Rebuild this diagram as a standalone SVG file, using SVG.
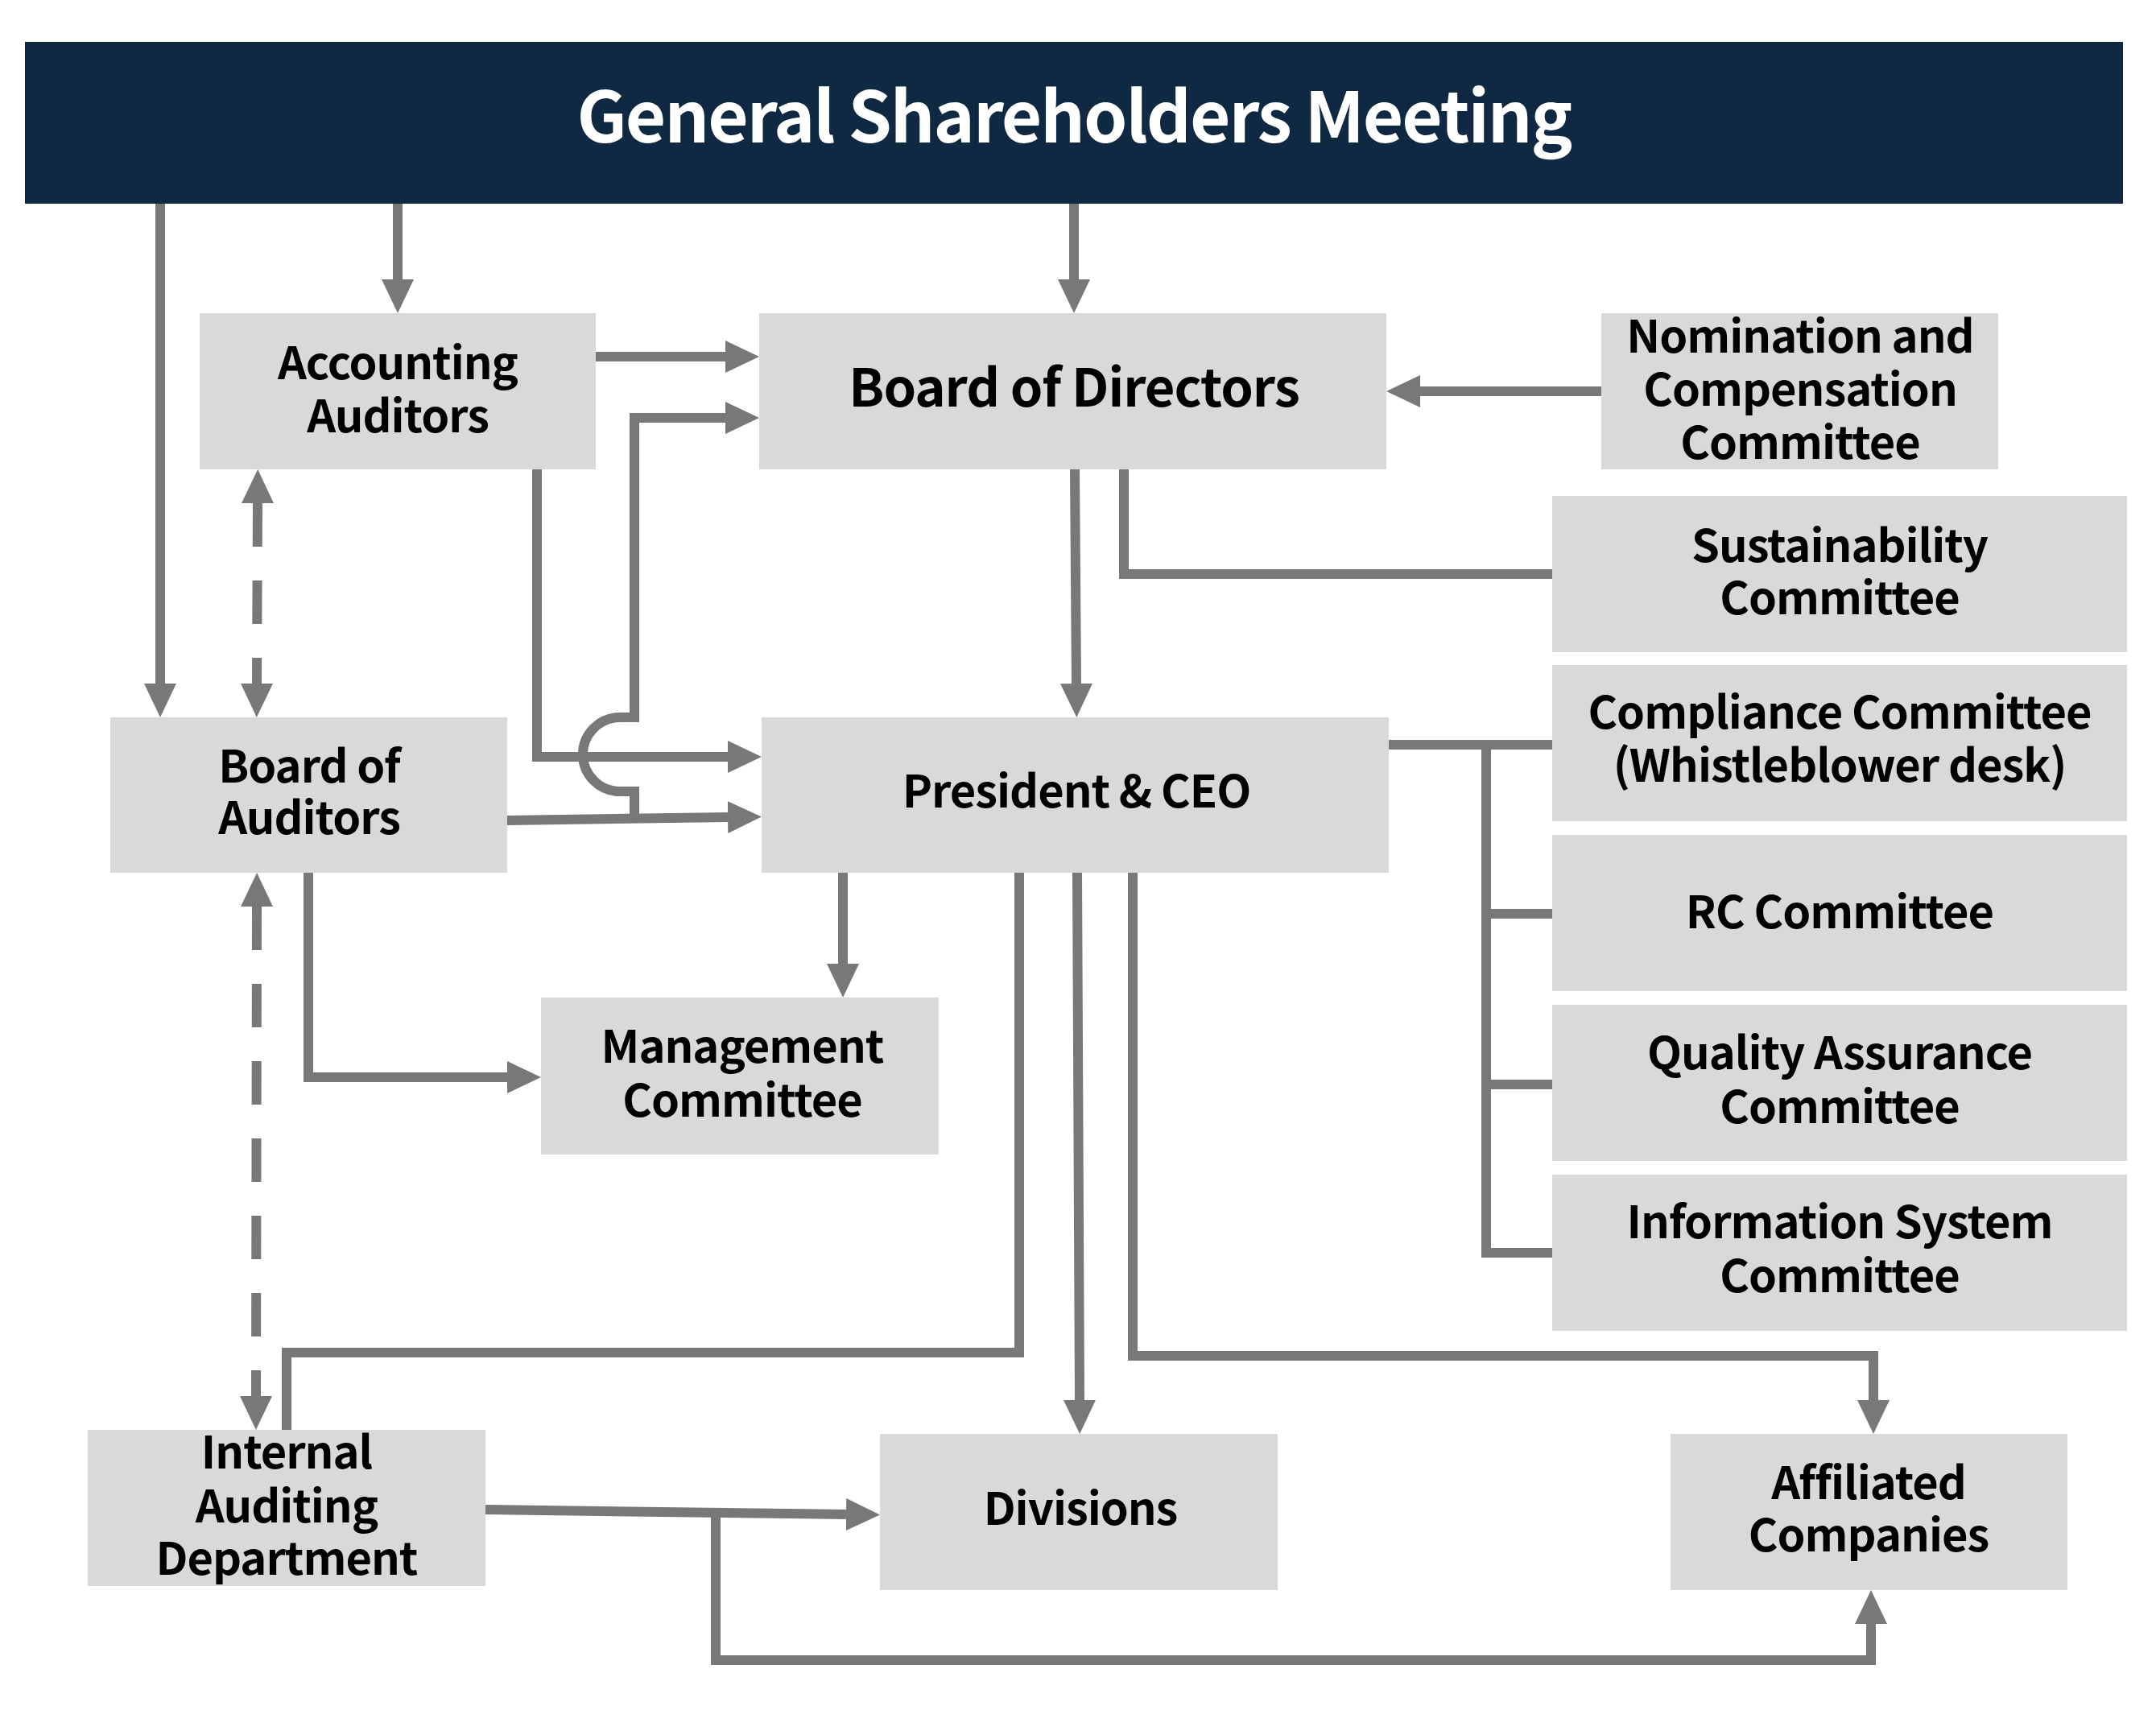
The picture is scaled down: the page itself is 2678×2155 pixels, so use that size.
<svg xmlns="http://www.w3.org/2000/svg" width="2678" height="2155" viewBox="0 0 2678 2155">
<style>
.box{fill:#d9d9d9}
.t{font-family:"Noto Sans CJK JP","Noto Sans",sans-serif;font-weight:700;font-size:56px;letter-spacing:-1px;fill:#000;text-anchor:middle}
.c{fill:none;stroke:#787878;stroke-width:12;stroke-linejoin:miter}
.d{stroke-dasharray:54 42}
</style>
<defs>
<marker id="ah" markerUnits="userSpaceOnUse" markerWidth="42" markerHeight="40" refX="0" refY="20" orient="auto-start-reverse" viewBox="0 0 42 40">
<path d="M0,0 L42,20 L0,40 z" fill="#787878"/>
</marker>
</defs>
<rect width="2678" height="2155" fill="#fff"/>
<g id="connectors">
<path class="c" d="M199,253 V849" marker-end="url(#ah)"/>
<path class="c" d="M494,253 V347" marker-end="url(#ah)"/>
<path class="c" d="M1334,253 V347" marker-end="url(#ah)"/>
<path class="c" d="M740,443 H901" marker-end="url(#ah)"/>
<path class="c" d="M667,583 V940 H904" marker-end="url(#ah)"/>
<path class="c" d="M630,1019 L904,1015" marker-end="url(#ah)"/>
<path class="c" d="M788,1017 V983 H770 A46,46 0 0 1 770,891 H788 V519 H901" marker-end="url(#ah)"/>
<path class="c" d="M1335,583 L1337,849" marker-end="url(#ah)"/>
<path class="c" d="M1396,583 V713 H1928"/>
<path class="c" d="M1989,486 H1764" marker-end="url(#ah)"/>
<path class="c" d="M1725,925 H1928 M1846,925 V1556 H1928 M1846,1135 H1928 M1846,1347 H1928"/>
<path class="c" d="M1047,1084 V1197" marker-end="url(#ah)"/>
<path class="c" d="M383,1084 V1338 H630" marker-end="url(#ah)"/>
<path class="c d" d="M320,625 L319,849" marker-start="url(#ah)" marker-end="url(#ah)"/>
<path class="c d" d="M319,1126 L318,1734" marker-start="url(#ah)" marker-end="url(#ah)"/>
<path class="c" d="M1266,1084 V1680 H356 V1776"/>
<path class="c" d="M1338,1084 L1341,1739" marker-end="url(#ah)"/>
<path class="c" d="M1407,1084 V1684 H2327 V1739" marker-end="url(#ah)"/>
<path class="c" d="M603,1875 L1051,1881" marker-end="url(#ah)"/>
<path class="c" d="M889,1879 V2062 H2324 V2017" marker-end="url(#ah)"/>
</g>
<g id="gsm">
<rect x="31" y="52" width="2606" height="201" fill="#102942"/>
<text class="t" x="1334" y="177" style="font-size:87px;letter-spacing:-2px;fill:#fff">General Shareholders Meeting</text>
</g>
<g id="accounting">
<rect class="box" x="248" y="389" width="492" height="194"/>
<text class="t" x="494" y="471">Accounting<tspan x="494" y="537">Auditors</tspan></text>
</g>
<g id="bod">
<rect class="box" x="943" y="389" width="779" height="194"/>
<text class="t" x="1334" y="505" style="font-size:65px">Board of Directors</text>
</g>
<g id="nomination">
<rect class="box" x="1989" y="389" width="493" height="194"/>
<text class="t" x="2236" y="438">Nomination and<tspan x="2236" y="504">Compensation</tspan><tspan x="2236" y="570">Committee</tspan></text>
</g>
<g id="sustainability">
<rect class="box" x="1928" y="616" width="714" height="194"/>
<text class="t" x="2285" y="698">Sustainability<tspan x="2285" y="763">Committee</tspan></text>
</g>
<g id="compliance">
<rect class="box" x="1928" y="826" width="714" height="194"/>
<text class="t" x="2285" y="905">Compliance Committee<tspan x="2285" y="971">(Whistleblower desk)</tspan></text>
</g>
<g id="rc">
<rect class="box" x="1928" y="1037" width="714" height="194"/>
<text class="t" x="2285" y="1153">RC Committee</text>
</g>
<g id="qa">
<rect class="box" x="1928" y="1248" width="714" height="194"/>
<text class="t" x="2285" y="1328">Quality Assurance<tspan x="2285" y="1395">Committee</tspan></text>
</g>
<g id="infosys">
<rect class="box" x="1928" y="1459" width="714" height="194"/>
<text class="t" x="2285" y="1538">Information System<tspan x="2285" y="1605">Committee</tspan></text>
</g>
<g id="boa">
<rect class="box" x="137" y="891" width="493" height="193"/>
<text class="t" x="384" y="972">Board of<tspan x="384" y="1036">Auditors</tspan></text>
</g>
<g id="president">
<rect class="box" x="946" y="891" width="779" height="193"/>
<text class="t" x="1337" y="1003">President &amp; CEO</text>
</g>
<g id="management">
<rect class="box" x="672" y="1239" width="494" height="195"/>
<text class="t" x="922" y="1320">Management<tspan x="922" y="1387">Committee</tspan></text>
</g>
<g id="internal">
<rect class="box" x="109" y="1776" width="494" height="194"/>
<text class="t" x="356" y="1824">Internal<tspan x="356" y="1891">Auditing</tspan><tspan x="356" y="1956">Department</tspan></text>
</g>
<g id="divisions">
<rect class="box" x="1093" y="1781" width="494" height="194"/>
<text class="t" x="1342" y="1894">Divisions</text>
</g>
<g id="affiliated">
<rect class="box" x="2075" y="1781" width="493" height="194"/>
<text class="t" x="2321" y="1862">Affiliated<tspan x="2321" y="1927">Companies</tspan></text>
</g>
</svg>
